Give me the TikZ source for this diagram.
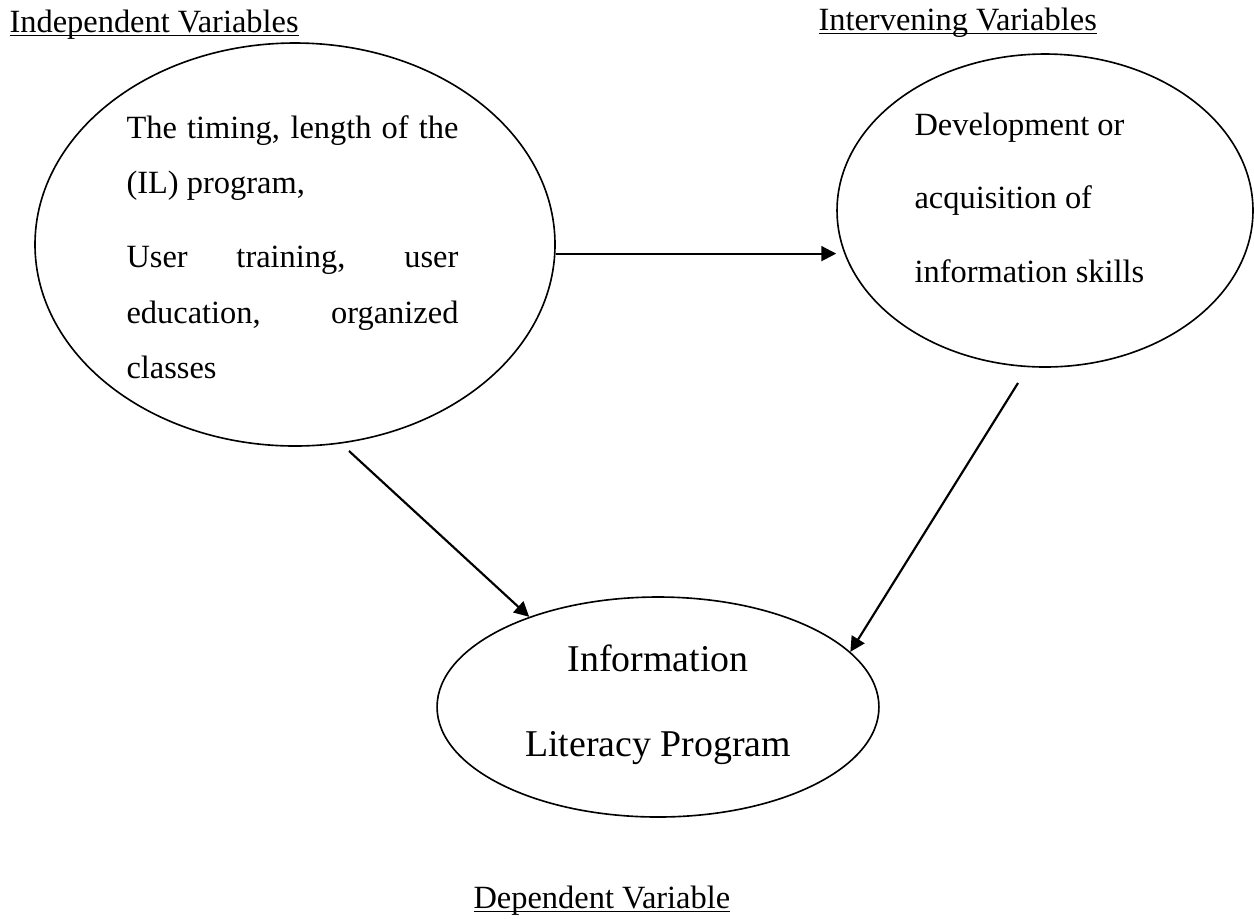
\documentclass[tikz,border=0pt]{standalone}
\usepackage{fontspec}
\setmainfont{Liberation Serif}
\usetikzlibrary{shapes.geometric,arrows.meta}
\newcommand{\varline}[1]{\setbox0\hbox{#1}\rlap{\rule[-1.6pt]{\wd0}{0.6pt}}\box0}

\begin{document}
\begin{tikzpicture}[x=0.37pt,y=-0.37pt,
  oval/.style={draw, ellipse, line width=0.6pt, inner sep=0pt},
  link/.style={-{Triangle[length=5.5pt,width=5.5pt]}, line width=0.8pt},
  txt/.style={inner sep=0pt, font=\fontsize{12}{14}\selectfont}]
\useasboundingbox (0,0) rectangle (1254,918);

\node [oval, minimum width=192.4pt, minimum height=149.1pt] (indep) at (295,244.5) {};
\node [oval, minimum width=153.9pt, minimum height=115.8pt] (interv) at (1045,210.5) {};
\node [oval, minimum width=163.5pt, minimum height=81.4pt] (dep) at (658,707) {};

\node [txt, anchor=base west] (indeplabel) at (9,32) {\varline{Independent Variables}};
\node [txt, anchor=base west] (intervlabel) at (818,30) {\varline{Intervening Variables}};
\node [txt, anchor=base west] (deplabel) at (473,908) {\varline{Dependent Variable}};

\node [txt, anchor=base west] (indeptext) at (126,138) {\parbox[t]{122.8pt}{\fontsize{12}{20.5}\selectfont
  \makebox[\linewidth][s]{The timing, length of the}\\
  (IL) program,\\[7pt]
  \makebox[\linewidth][s]{User training, user}\\
  \makebox[\linewidth][s]{education, organized}\\
  classes}};
\node [txt, anchor=base west] (intervtext) at (914,135) {\parbox[t]{100pt}{\fontsize{12}{27.2}\selectfont
  Development or\\
  acquisition of\\
  information skills}};
\node [txt, anchor=base] (deptext) at (658,671) {\parbox[t]{200pt}{\centering\fontsize{14}{31.5}\selectfont
  Information\\
  Literacy Program}};

\coordinate (s1) at (349,451);
\coordinate (s2) at (1018,383);
\draw [link] (indep.-2) -- (interv.west |- indep.-2);
\draw [link] (s1) -- (dep.145);
\draw [link] (s2) -- (dep.16);

\end{tikzpicture}
\end{document}
